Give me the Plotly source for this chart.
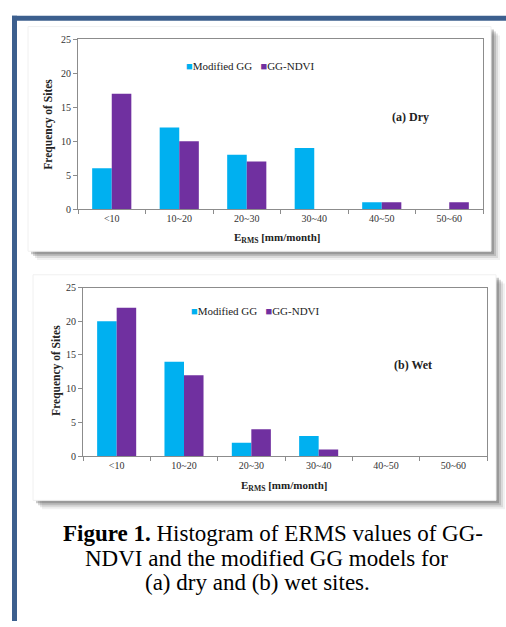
import plotly.graph_objects as go

# ---- data -------------------------------------------------------------
categories = ["<10", "10~20", "20~30", "30~40", "40~50", "50~60"]
series_names = ["Modified GG", "GG-NDVI"]
series_colors = ["#00b0f0", "#7030a0"]

dry_modified_gg = [6, 12, 8, 9, 1, 0]
dry_gg_ndvi = [17, 10, 7, 0, 1, 1]

wet_modified_gg = [20, 14, 2, 3, 0, 0]
wet_gg_ndvi = [22, 12, 4, 1, 0, 0]

y_ticks = [0, 5, 10, 15, 20, 25]

# ---- page geometry helpers (pixels -> paper fractions) ---------------
W, H = 506, 627


def px(x):
    return x / W


def py(y):
    return 1 - y / H


SERIF = "Liberation Serif"
AXIS_GREY = "#8c8c8c"

fig = go.Figure()

panels = [
    dict(xa="x", ya="y", data=[dry_modified_gg, dry_gg_ndvi]),
    dict(xa="x2", ya="y2", data=[wet_modified_gg, wet_gg_ndvi]),
]
for p in panels:
    for name, color, vals in zip(series_names, series_colors, p["data"]):
        fig.add_trace(go.Bar(
            x=categories, y=vals, name=name, marker=dict(color=color, line=dict(width=0)),
            xaxis=p["xa"], yaxis=p["ya"], showlegend=False,
        ))

axis_common = dict(
    showline=True, linecolor=AXIS_GREY, linewidth=1, mirror=True,
    showgrid=False, zeroline=False, ticks="outside", ticklen=4,
    tickcolor=AXIS_GREY, tickfont=dict(family=SERIF, size=10, color="#333333"),
)

xaxis_common = dict(axis_common, type="category", tickson="boundaries")
yaxis_common = dict(axis_common, range=[0, 25], tickvals=y_ticks)

fig.update_layout(
    width=W, height=H,
    margin=dict(l=0, r=0, t=0, b=0),
    paper_bgcolor="white",
    plot_bgcolor="rgba(0,0,0,0)",
    barmode="group", bargap=0.42, bargroupgap=0,
    xaxis=dict(xaxis_common, domain=[px(78), px(483)], anchor="y"),
    yaxis=dict(yaxis_common, domain=[py(207), py(34)], anchor="x"),
    xaxis2=dict(xaxis_common, domain=[px(83), px(487)], anchor="y2"),
    yaxis2=dict(yaxis_common, domain=[py(459), py(287)], anchor="x2"),
)

# ---- frame, panels and drop shadows ----------------------------------
shapes = []


def rect(x0, y0, x1, y1, fill, layer="below"):
    shapes.append(dict(type="rect", xref="paper", yref="paper",
                       x0=px(x0), x1=px(x1), y0=py(y1), y1=py(y0),
                       fillcolor=fill, line=dict(width=0), layer=layer))


# blue page frame
rect(12, 10, W, 15, "#3c5f8e")
rect(12, 10, 17, H, "#3c5f8e")


def panel(x0, y0, x1, y1):
    # soft shadow built from stacked translucent layers
    for off, alpha in [(9, 0.07), (7, 0.12), (5, 0.19), (3, 0.27)]:
        rect(x0 + off, y0 + off, x1 + off, y1 + off, f"rgba(60,60,60,{alpha})")
    rect(x0, y0, x1, y1, "white")
    shapes.append(dict(type="rect", xref="paper", yref="paper",
                       x0=px(x0), x1=px(x1), y0=py(y1), y1=py(y0),
                       fillcolor="rgba(0,0,0,0)", line=dict(width=1, color="#f0f0f0"),
                       layer="below"))


panel(28, 21, 491, 250)
panel(33, 274, 496, 504)

fig.update_layout(shapes=shapes)

# ---- text --------------------------------------------------------------
ann = []


def legend_text():
    parts = [f"<span style='color:{c}'>■</span>{n}" for n, c in zip(series_names, series_colors)]
    return "   ".join(parts)


def text(x, y, s, size, bold=False, angle=0, color="#222222"):
    ann.append(dict(xref="paper", yref="paper", x=px(x), y=py(y), text=f"<b>{s}</b>" if bold else s,
                    showarrow=False, xanchor="center", yanchor="middle", textangle=angle,
                    font=dict(family=SERIF, size=size, color=color)))


# panel (a)
text(250, 61, legend_text(), 11)
text(410, 113, "(a) Dry", 12, bold=True)
text(49, 121, "Frequency of Sites", 11.5, bold=True, angle=-90)
text(277, 237, "E<sub>RMS</sub> [mm/month]", 11, bold=True)

# panel (b)
text(255, 311, legend_text(), 11)
text(413, 366, "(b) Wet", 12, bold=True)
text(57, 372, "Frequency of Sites", 11.5, bold=True, angle=-90)
text(284, 489, "E<sub>RMS</sub> [mm/month]", 11, bold=True)

# figure caption, one centred line at a time
caption_lines = [
    (273, 538, "<b>Figure 1.</b> Histogram of ERMS values of GG-"),
    (266, 563, "NDVI and the modified GG models for"),
    (257, 588, "(a) dry and (b) wet sites."),
]
for cx, cy, line in caption_lines:
    text(cx, cy, line, 23, color="black")

fig.update_layout(annotations=ann)

fig.write_html("out.html")
